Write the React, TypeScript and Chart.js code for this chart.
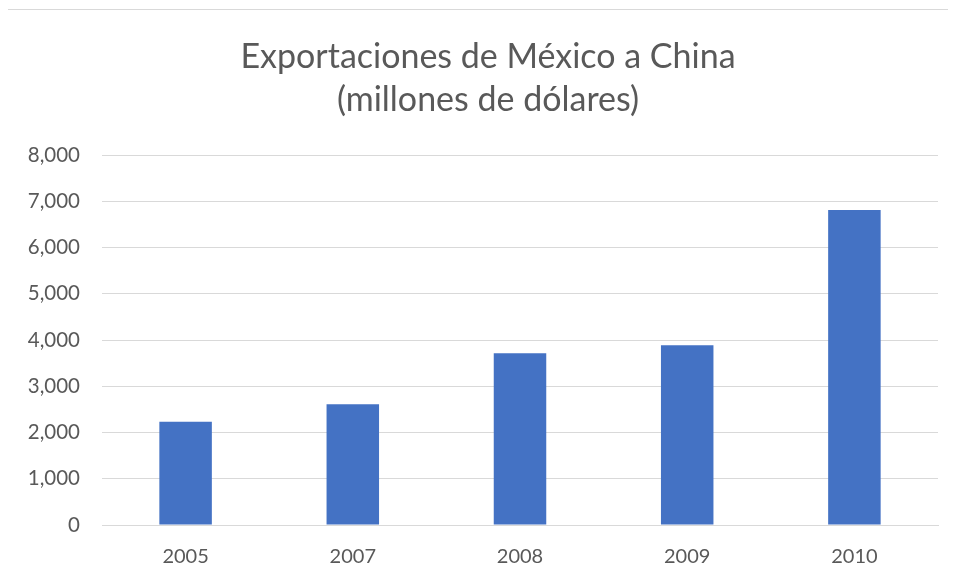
import React, { useEffect, useRef } from "react";
import { Chart, registerables } from "chart.js";

Chart.register(...registerables);

const years = ["2005", "2007", "2008", "2009", "2010"];
const exportsMillions = [2233, 2610, 3712, 3885, 6811];
const titleLines = ["Exportaciones de México a China", "(millones de dólares)"];

const TEXT = "#595959";
const GRID = "#d9d9d9";
const BAR = "#4472C4";
const FONT = "Lato, 'Open Sans', sans-serif";

export default function App() {
  const ref = useRef<HTMLCanvasElement | null>(null);

  useEffect(() => {
    document.body.style.overflow = "hidden";
    if (!ref.current) return;
    const chart = new Chart(ref.current, {
      type: "bar",
      data: {
        labels: years,
        datasets: [
          {
            data: exportsMillions,
            backgroundColor: BAR,
            borderWidth: 0,
            barPercentage: 0.314,
            categoryPercentage: 1,
          },
        ],
      },
      options: {
        responsive: false,
        animation: false,
        layout: { padding: 0 },
        plugins: {
          legend: { display: false },
          tooltip: { enabled: false },
          title: {
            display: true,
            text: titleLines,
            color: TEXT,
            font: { family: FONT, size: 34, weight: "normal", lineHeight: 43 / 34 },
            padding: { top: 25.5, bottom: 33.5 },
          },
        },
        scales: {
          x: {
            grid: { display: false, drawTicks: false },
            border: { display: true, color: GRID, width: 1 },
            ticks: { color: TEXT, font: { family: FONT, size: 20 }, padding: 20 },
            afterFit: (s: any) => {
              s.height = 56;
            },
          },
          y: {
            min: 0,
            max: 8000,
            grid: { color: GRID, lineWidth: 1, drawTicks: false },
            border: { display: false },
            ticks: {
              stepSize: 1000,
              color: TEXT,
              font: { family: FONT, size: 20.5 },
              padding: 22,
              callback: (v: any) => Number(v).toLocaleString("en-US"),
            },
            afterFit: (s: any) => {
              s.width = 94;
            },
          },
          yRightSpace: {
            type: "linear",
            position: "right",
            display: true,
            grid: { display: false, drawTicks: false },
            border: { display: false },
            ticks: { display: false },
            afterFit: (s: any) => {
              s.width = 30;
            },
          },
        },
      },
    });
    return () => chart.destroy();
  }, []);

  return (
    <div
      style={{
        marginLeft: -1,
        marginTop: 1,
        width: 949,
        height: 572,
        borderTop: `1px solid ${GRID}`,
        borderLeft: `1px solid ${GRID}`,
        boxSizing: "border-box",
        background: "#fff",
        overflow: "hidden",
      }}
    >
      <canvas ref={ref} width={960} height={571} style={{ display: "block" }} />
    </div>
  );
}
